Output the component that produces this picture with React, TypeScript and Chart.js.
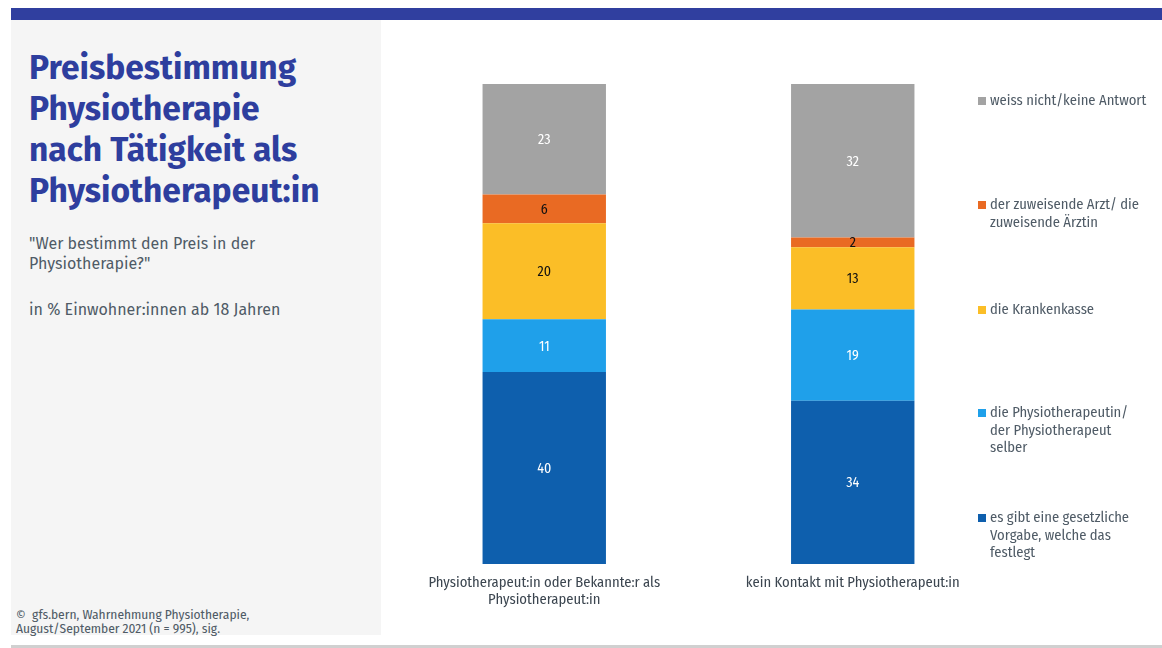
import React, { useEffect, useRef } from "react";
import { Chart, registerables } from "chart.js";

Chart.register(...registerables);

// ---- Data ----
const categories: string[][] = [
  ["Physiotherapeut:in oder Bekannte:r als", "Physiotherapeut:in"],
  ["kein Kontakt mit Physiotherapeut:in"],
];
const seriesNames: string[] = [
  "es gibt eine gesetzliche Vorgabe, welche das festlegt",
  "die Physiotherapeutin/ der Physiotherapeut selber",
  "die Krankenkasse",
  "der zuweisende Arzt/ die zuweisende Ärztin",
  "weiss nicht/keine Antwort",
];
const legendLines: string[][] = [
  ["es gibt eine gesetzliche", "Vorgabe, welche das", "festlegt"],
  ["die Physiotherapeutin/", "der Physiotherapeut", "selber"],
  ["die Krankenkasse"],
  ["der zuweisende Arzt/ die", "zuweisende Ärztin"],
  ["weiss nicht/keine Antwort"],
];
const gesetzlich: number[] = [40, 34];
const physioSelber: number[] = [11, 19];
const krankenkasse: number[] = [20, 13];
const arzt: number[] = [6, 2];
const weissNicht: number[] = [23, 32];

const seriesValues: number[][] = [gesetzlich, physioSelber, krankenkasse, arzt, weissNicht];
const seriesColors: string[] = ["#0E5FAD", "#1FA0EA", "#FBBE27", "#E96A23", "#A3A3A3"];
const labelColors: string[] = ["#FFFFFF", "#FFFFFF", "#111111", "#111111", "#FFFFFF"];
// legend vertical centres (first line)
const legendTops: number[] = [518, 413, 310, 205, 101];

const FONT = "'Fira Sans', Lato, 'Noto Sans', sans-serif";
const COND = "'Liberation Sans Narrow', 'Fira Sans Condensed', Lato, sans-serif";

const valueLabelPlugin = {
  id: "valueLabels",
  afterDatasetsDraw(chart: any) {
    const ctx = chart.ctx;
    ctx.save();
    ctx.font = `14px ${COND}`;
    ctx.textAlign = "center";
    ctx.textBaseline = "middle";
    chart.data.datasets.forEach((ds: any, di: number) => {
      const meta = chart.getDatasetMeta(di);
      meta.data.forEach((bar: any, i: number) => {
        const v = ds.data[i];
        if (!v) return;
        const { x, y, base } = bar.getProps(["x", "y", "base"], true);
        ctx.fillStyle = labelColors[di];
        ctx.fillText(String(v), x, (y + base) / 2 + 1);
      });
    });
    ctx.restore();
  },
};

function StackedChart() {
  const ref = useRef<HTMLCanvasElement | null>(null);
  useEffect(() => {
    if (!ref.current) return;
    const chart = new Chart(ref.current, {
      type: "bar",
      data: {
        labels: categories,
        datasets: seriesValues.map((vals, i) => ({
          label: seriesNames[i],
          data: vals,
          backgroundColor: seriesColors[i],
          borderWidth: 0,
          barPercentage: 0.8,
          categoryPercentage: 0.5,
        })),
      },
      options: {
        animation: false,
        responsive: false,
        maintainAspectRatio: false,
        layout: { padding: 0 },
        plugins: {
          legend: { display: false },
          tooltip: { enabled: false },
          title: { display: false },
        },
        scales: {
          x: {
            stacked: true,
            grid: { display: false, drawTicks: false },
            border: { display: false },
            ticks: {
              color: "#3C4650",
              font: { family: COND, size: 14.6, lineHeight: 1.2 },
              padding: 10,
              maxRotation: 0,
              autoSkip: false,
            },
            afterFit: (axis: any) => {
              axis.height = 60;
            },
          },
          y: {
            stacked: true,
            display: false,
            min: 0,
            max: 100,
          },
        },
      },
      plugins: [valueLabelPlugin],
    } as any);
    return () => chart.destroy();
  }, []);
  return (
    <canvas
      ref={ref}
      width={617}
      height={540}
      style={{ position: "absolute", left: 390, top: 84, width: 617, height: 540 }}
    />
  );
}

export default function App() {
  return (
    <div
      style={{
        position: "fixed",
        left: 0,
        top: 0,
        width: 1162,
        height: 648,
        background: "#FFFFFF",
        overflow: "hidden",
        fontFamily: FONT,
      }}
    >
      <div style={{ position: "absolute", left: 11, top: 8, width: 1151, height: 12, background: "#303F9F" }} />
      <div style={{ position: "absolute", left: 11, top: 20, width: 370, height: 615, background: "#F5F5F5" }} />
      <div style={{ position: "absolute", left: 11, top: 645, width: 1151, height: 3, background: "#D0D0D0" }} />
      <div
        style={{
          position: "absolute",
          left: 29,
          top: 48,
          width: 350,
          color: "#2E3E9E",
          fontWeight: 700,
          fontSize: 33.6,
          lineHeight: "41px",
          whiteSpace: "nowrap",
        }}
      >
        Preisbestimmung
        <br />
        Physiotherapie
        <br />
        nach Tätigkeit als
        <br />
        Physiotherapeut:in
      </div>
      <div
        style={{
          position: "absolute",
          left: 29,
          top: 234,
          width: 340,
          color: "#4F5B66",
          fontSize: 16,
          lineHeight: "20px",
        }}
      >
        "Wer bestimmt den Preis in der
        <br />
        Physiotherapie?"
      </div>
      <div style={{ position: "absolute", left: 29, top: 300, color: "#4F5B66", fontSize: 16, lineHeight: "20px" }}>
        in % Einwohner:innen ab 18 Jahren
      </div>
      <div
        style={{
          position: "absolute",
          left: 16,
          top: 608,
          color: "#4F5B66",
          fontFamily: COND,
          fontSize: 13.4,
          lineHeight: "14px",
          whiteSpace: "nowrap",
        }}
      >
        ©&nbsp;&nbsp;gfs.bern, Wahrnehmung Physiotherapie,
        <br />
        August/September 2021 (n = 995), sig.
      </div>
      <StackedChart />
      {legendLines.map((lines, i) => (
        <div key={i} style={{ position: "absolute", left: 978, top: legendTops[i] - 9 }}>
          <div
            style={{
              position: "absolute",
              left: 0,
              top: 5,
              width: 8,
              height: 8,
              background: seriesColors[i],
            }}
          />
          <div
            style={{
              position: "absolute",
              left: 12,
              top: 0,
              width: 180,
              color: "#4F5B66",
              fontFamily: COND,
              fontSize: 14.6,
              lineHeight: "17.5px",
              whiteSpace: "nowrap",
            }}
          >
            {lines.map((l, j) => (
              <div key={j}>{l}</div>
            ))}
          </div>
        </div>
      ))}
    </div>
  );
}
